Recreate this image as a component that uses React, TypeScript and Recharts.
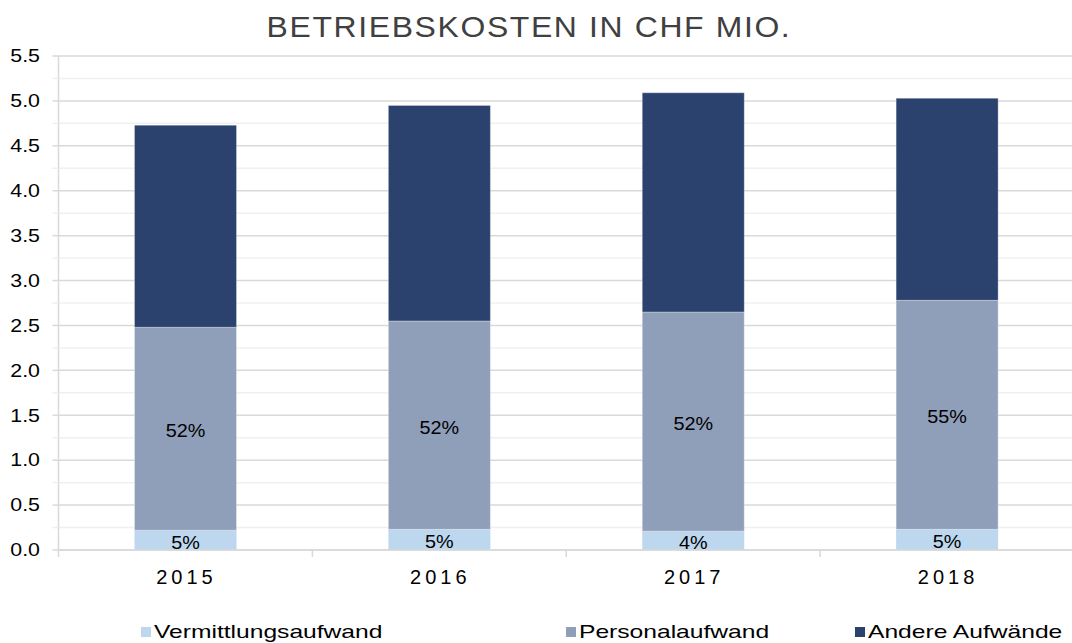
import React from 'react';
import { BarChart, Bar, XAxis, YAxis, CartesianGrid, LabelList, Legend } from 'recharts';

const years = ['2015', '2016', '2017', '2018'];
const vermittlung = [0.22, 0.23, 0.21, 0.23];
const personal = [2.26, 2.32, 2.44, 2.55];
const andere = [2.25, 2.4, 2.44, 2.25];
const vermittlungLabels = ['5%', '5%', '4%', '5%'];
const personalLabels = ['52%', '52%', '52%', '55%'];
const yTicks = [0, 0.25, 0.5, 0.75, 1, 1.25, 1.5, 1.75, 2, 2.25, 2.5, 2.75, 3, 3.25, 3.5, 3.75, 4, 4.25, 4.5, 4.75, 5, 5.25, 5.5];
const seriesNames = ['Vermittlungsaufwand', 'Personalaufwand', 'Andere Aufwände'];
const colors = ['#bdd7ee', '#909fb9', '#2b416e'];
const TITLE = 'BETRIEBSKOSTEN IN CHF MIO.';

const data = years.map((y, i) => ({
  year: y,
  vermittlung: vermittlung[i],
  personal: personal[i],
  andere: andere[i],
  vermLabel: vermittlungLabels[i],
  persLabel: personalLabels[i],
}));

const FONT = '"Liberation Sans", Arial, sans-serif';

const YTick = (props: any) => {
  const { x, y, payload } = props;
  const v = payload.value;
  const major = Math.abs(v * 2 - Math.round(v * 2)) < 1e-6;
  return (
    <g>
      <line x1={x - 6} x2={x} y1={y} y2={y} stroke={major ? '#d9d9d9' : '#efefef'} strokeWidth={1.5} />
      {major && (
        <g transform={`translate(${x - 18.5},${y}) scale(1.22,1)`}>
          <text x={0} y={0} dy="0.36em" textAnchor="end" fontSize={17.5} fill="#000" fontFamily={FONT}>
            {v.toFixed(1)}
          </text>
        </g>
      )}
    </g>
  );
};

const XTick = (props: any) => {
  const { x, y, payload, index } = props;
  const off = payload && typeof payload.offset === 'number' ? payload.offset : 0;
  return (
    <g>
      {off > 0 && <line x1={x - off} x2={x - off} y1={y - 8} y2={y - 1} stroke="#d9d9d9" strokeWidth={1.5} />}
      {off > 0 && index === years.length - 1 && (
        <line x1={x + off} x2={x + off} y1={y - 8} y2={y - 1} stroke="#d9d9d9" strokeWidth={1.5} />
      )}
      <text x={x + 1} y={y + 26} textAnchor="middle" fontSize={20} letterSpacing={4} fill="#000" fontFamily={FONT}>
        {payload.value}
      </text>
    </g>
  );
};

const makeLabel = (size: number) => (props: any) => {
  const { x, y, width, height, value } = props;
  const cx = x + width / 2;
  const cy = y + height / 2;
  return (
    <g transform={`translate(${cx},${cy + 2}) scale(1.1,1)`}>
      <text x={0} y={0} dy="0.36em" textAnchor="middle" fontSize={size} fill="#000" fontFamily={FONT}>
        {value}
      </text>
    </g>
  );
};

const legendLefts = [141, 566, 855];

const renderLegend = () => (
  <div style={{ position: 'relative', width: 1080, height: 43 }}>
    {seriesNames.map((n, i) => (
      <div key={n} style={{ position: 'absolute', left: legendLefts[i], top: 24, height: 16, display: 'flex', alignItems: 'center' }}>
        <div style={{ width: 10, height: 10, background: colors[i], marginRight: 3 }} />
        <div style={{ fontFamily: FONT, fontSize: 18.5, color: '#000', transform: 'scaleX(1.33)', transformOrigin: 'left center', whiteSpace: 'nowrap', lineHeight: '16px' }}>
          {n}
        </div>
      </div>
    ))}
  </div>
);

const gridLine = (p: any) => {
  const step = p.height / (yTicks.length - 1);
  const idx = Math.round((p.y + p.height - p.y1) / step);
  const major = idx % 2 === 0;
  return (
    <line
      key={p.key ?? `g-${idx}`}
      x1={p.x1}
      x2={p.x2}
      y1={p.y1}
      y2={p.y2}
      stroke={major ? '#d9d9d9' : '#f0f0f0'}
      strokeWidth={1.5}
    />
  );
};

export default function App() {
  return (
    <div style={{ position: 'absolute', left: 0, top: 0, width: 1072, height: 643, overflow: 'hidden', background: '#fff' }}>
      <svg width={1072} height={50} style={{ position: 'absolute', left: 0, top: 0 }}>
        <g transform="translate(529,37) scale(1.1,1)">
          <text x={0} y={0} textAnchor="middle" fontSize={29} letterSpacing={1.5} fill="#404040" fontFamily={FONT}>
            {TITLE}
          </text>
        </g>
      </svg>
      <div style={{ position: 'absolute', left: 0, top: 0 }}>
        <BarChart width={1080} height={643} data={data} margin={{ top: 56, right: 6, left: 0, bottom: 0 }} barSize={102}>
          <CartesianGrid vertical={false} horizontal={gridLine} />
          <XAxis dataKey="year" height={50} tickLine={false} axisLine={{ stroke: '#d9d9d9', strokeWidth: 1.5 }} tick={<XTick />} interval={0} />
          <YAxis
            type="number"
            domain={[0, 5.5]}
            ticks={yTicks}
            interval={0}
            width={58.5}
            tickSize={0}
            tickMargin={0}
            tickLine={false}
            axisLine={{ stroke: '#d9d9d9', strokeWidth: 1.5 }}
            tick={<YTick />}
          />
          <Legend verticalAlign="bottom" height={43} content={renderLegend} wrapperStyle={{ left: 0, width: 1080 }} />
          <Bar dataKey="vermittlung" name={seriesNames[0]} stackId="a" fill={colors[0]} isAnimationActive={false}>
            <LabelList dataKey="vermLabel" content={makeLabel(18)} />
          </Bar>
          <Bar dataKey="personal" name={seriesNames[1]} stackId="a" fill={colors[1]} stroke="#ffffff" strokeOpacity={0.3} isAnimationActive={false}>
            <LabelList dataKey="persLabel" content={makeLabel(18)} />
          </Bar>
          <Bar dataKey="andere" name={seriesNames[2]} stackId="a" fill={colors[2]} stroke="#ffffff" strokeOpacity={0.3} isAnimationActive={false} />
        </BarChart>
      </div>
    </div>
  );
}
